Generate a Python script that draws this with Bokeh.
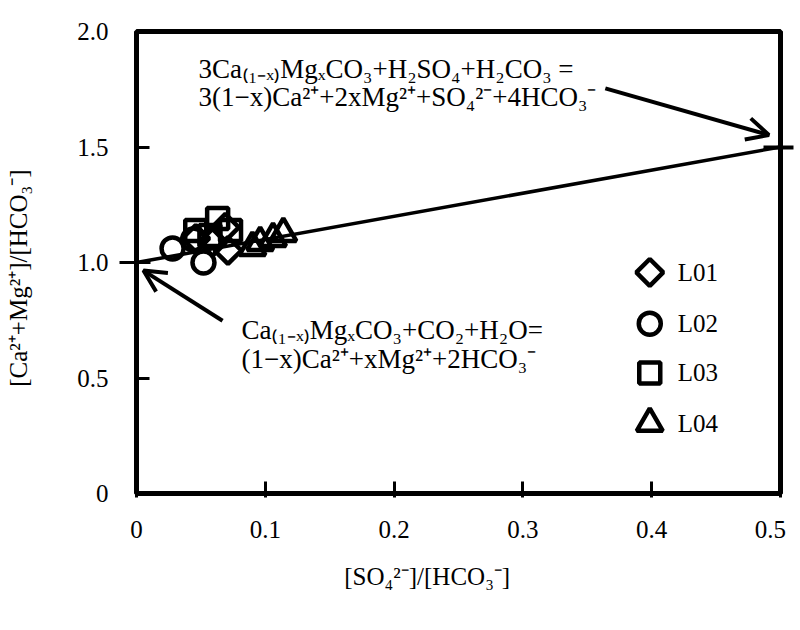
import numpy as np
from bokeh.plotting import figure
from bokeh.models import (Arrow, OpenHead, Label, FixedTicker, CustomJSTickFormatter,
                          Range1d, LinearAxis)
from bokeh.embed import file_html
from bokeh.resources import INLINE

# ---- data ----
l01_x = [0.046, 0.059, 0.069, 0.071]
l01_y = [1.104, 1.087, 1.152, 1.052]
l02_x = [0.028, 0.052, 0.044]
l02_y = [1.061, 1.000, 1.100]
l03_x = [0.046, 0.063, 0.073, 0.057]
l03_y = [1.139, 1.191, 1.139, 1.117]
l04_x = [0.090, 0.096, 0.106, 0.114]
l04_y = [1.065, 1.087, 1.104, 1.126]
series_names = ["L01", "L02", "L03", "L04"]
ref_line_x = [0.0, 0.5]
ref_line_y = [1.0, 1.5]
x_ticks = [0, 0.1, 0.2, 0.3, 0.4, 0.5]
y_ticks = [0, 0.5, 1.0, 1.5, 2.0]

FONT = "Liberation Serif"
EMPTY = CustomJSTickFormatter(code='return "";')

p = figure(width=798, height=628, output_backend="svg", toolbar_location=None,
           x_range=Range1d(0, 0.5), y_range=Range1d(0, 2.0), y_axis_location=None,
           min_border_left=136, min_border_right=18, min_border_top=31,
           min_border_bottom=135)
p.background_fill_color = "white"
p.border_fill_color = "white"
p.grid.visible = False
p.outline_line_color = "black"
p.outline_line_width = 5


def style(ax):
    ax.axis_line_color = None
    ax.major_tick_line_color = "black"
    ax.major_tick_line_width = 3
    ax.minor_tick_line_color = None
    ax.major_label_text_font = FONT
    ax.major_label_text_font_size = "25px"
    ax.major_label_text_color = "black"
    ax.axis_label_text_font = FONT
    ax.axis_label_text_font_style = "normal"
    ax.axis_label_text_font_size = "25px"
    ax.axis_label_text_color = "black"


style(p.xaxis[0])
p.xaxis.ticker = FixedTicker(ticks=x_ticks)
p.xaxis.formatter = CustomJSTickFormatter(code="""
if (tick == 0) return "0";
if (Math.abs(tick-0.5) < 1e-9) return "0.5\u00a0\u00a0";
return tick.toFixed(1);""")
p.xaxis.major_tick_in = 12
p.xaxis.major_tick_out = 4
p.xaxis.major_label_standoff = 18
p.xaxis.axis_label = "[SO₄²⁻]/[HCO₃⁻]" + "\u00a0" * 10
p.xaxis.axis_label_standoff = 17

# inner left axis: ticks only (cross tick at 1.0)
ax_in = LinearAxis(ticker=FixedTicker(ticks=[1.0], minor_ticks=[0.5, 1.5]), formatter=EMPTY)
style(ax_in)
ax_in.major_tick_in = 14
ax_in.major_tick_out = 17
ax_in.minor_tick_line_color = "black"
ax_in.minor_tick_line_width = 3
ax_in.minor_tick_in = 13
ax_in.minor_tick_out = 0
ax_in.major_label_standoff = 0
ax_in.major_label_text_font_size = "1px"
p.add_layout(ax_in, "left")

# outer left axis: labels and title
ax_lab = LinearAxis(ticker=FixedTicker(ticks=y_ticks), formatter=CustomJSTickFormatter(code="""
if (tick == 0) return "0";
return tick.toFixed(1);"""))
style(ax_lab)
ax_lab.major_tick_line_color = None
ax_lab.major_tick_in = 0
ax_lab.major_tick_out = 0
ax_lab.major_label_standoff = 11
ax_lab.axis_label = "[Ca²⁺+Mg²⁺]/[HCO₃⁻]" + "\u00a0" * 5
ax_lab.axis_label_standoff = 42
p.add_layout(ax_lab, "left")

# right axis: cross tick at 1.5
ax_r = LinearAxis(ticker=FixedTicker(ticks=[1.5]), formatter=EMPTY)
style(ax_r)
ax_r.major_tick_in = 17
ax_r.major_tick_out = 13
ax_r.major_tick_line_width = 4
ax_r.major_label_standoff = 0
ax_r.major_label_text_font_size = "1px"
p.add_layout(ax_r, "right")

# reference line
p.line(ref_line_x, ref_line_y, line_color="black", line_width=3.5)

MK = dict(line_color="black", line_width=4.5, fill_color=None)
p.scatter(l01_x, l01_y, marker="square", angle=np.pi/4, size=19, **MK)
p.scatter(l02_x, l02_y, marker="circle", size=22, **MK)
p.scatter(l03_x, l03_y, marker="square", size=21, **MK)
p.scatter(l04_x, l04_y, marker="triangle", size=26, **MK)

# legend (manual)
leg_x = 0.3985
leg_tx = 0.4203
leg_y = [0.957, 0.735, 0.522, 0.304]
p.scatter([leg_x], [leg_y[0]], marker="square", angle=np.pi/4, size=19, **MK)
p.scatter([leg_x], [leg_y[1]], marker="circle", size=22, **MK)
p.scatter([leg_x], [leg_y[2]], marker="square", size=21, **MK)
p.scatter([leg_x], [leg_y[3]], marker="triangle", size=26, **MK)
for name, yy in zip(series_names, leg_y):
    p.add_layout(Label(x=leg_tx, y=yy, text=name, text_font=FONT, text_font_size="25px",
                       text_baseline="middle", text_align="left", text_color="black"))

# equations
eq_font = "27px"
EQ = dict(text_font=FONT, text_font_size=eq_font, text_baseline="alphabetic", text_color="black")
p.add_layout(Label(x=0.0481, y=1.839, text="3Ca₍₁₋ₓ₎MgₓCO₃+H₂SO₄+H₂CO₃ =", **EQ))
p.add_layout(Label(x=0.0481, y=1.717, text="3(1−x)Ca²⁺+2xMg²⁺+SO₄²⁻+4HCO₃⁻", **EQ))
p.add_layout(Label(x=0.0815, y=0.709, text="Ca₍₁₋ₓ₎MgₓCO₃+CO₂+H₂O=", **EQ))
p.add_layout(Label(x=0.0815, y=0.583, text="(1−x)Ca²⁺+xMg²⁺+2HCO₃⁻", **EQ))

# arrows
p.add_layout(Arrow(end=OpenHead(size=22, line_width=4, line_color="black"),
                   x_start=0.364, y_start=1.754, x_end=0.491, y_end=1.552,
                   line_width=4, line_color="black"))
p.add_layout(Arrow(end=OpenHead(size=22, line_width=4, line_color="black"),
                   x_start=0.0668, y_start=0.748, x_end=0.0054, y_end=0.965,
                   line_width=4, line_color="black"))

open("out.html", "w").write(file_html(p, INLINE))
